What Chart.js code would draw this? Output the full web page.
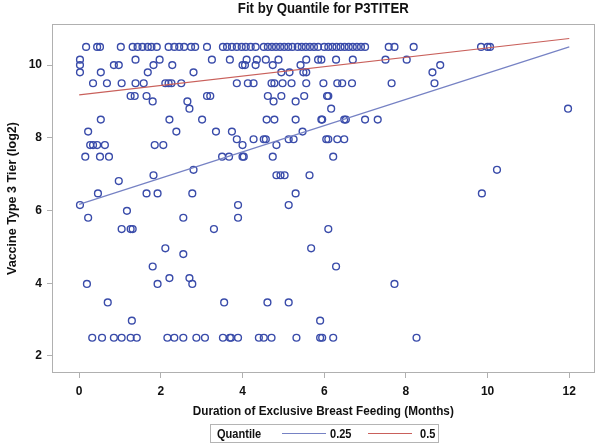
<!DOCTYPE html>
<html>
<head>
<meta charset="utf-8">
<script src="https://cdn.jsdelivr.net/npm/chart.js@4.4.1/dist/chart.umd.min.js"></script>
<style>
  body { margin: 0; background: #fff; }
  #wrap { position: relative; width: 600px; height: 444px; }
  #legend {
    position: absolute; left: 210px; top: 424px; width: 229px; height: 19px;
    border: 1px solid #b4b4b4; box-sizing: border-box;
    font: bold 13px "Liberation Sans", Arial, sans-serif;
    color: #111;
  }
  #legend span { position: absolute; top: 1px; transform: scaleX(0.85); transform-origin: left center; }
  #legend .ln { top: 8px; height: 1px; width: 44px; transform: none; }
</style>
</head>
<body>
<div id="wrap">
  <canvas id="chart" width="600" height="444"></canvas>
  <div id="legend">
    <span style="left:6px">Quantile</span>
    <span class="ln" style="left:71px;background:#7682c4"></span>
    <span style="left:119px">0.25</span>
    <span class="ln" style="left:157px;background:#c9605b"></span>
    <span style="left:209px">0.5</span>
  </div>
</div>
<script>
// titer levels (log2) and the months observed at each level
const titerLevels = [10.5, 10.15, 10.0, 9.8, 9.5, 9.15, 9.0, 8.8, 8.5, 8.17, 7.96, 7.8, 7.48,
  7.12, 6.97, 6.81, 6.47, 6.15, 5.99, 5.8, 5.49, 4.96, 4.8, 4.46, 4.14, 3.98, 3.47, 2.97, 2.5];
const monthsAtLevel = [
  [0.17, 0.44, 0.51, 1.02, 1.31, 1.43, 1.55, 1.68, 1.77, 1.9, 2.19, 2.33, 2.45, 2.57, 2.74, 2.84,
   3.13, 3.52, 3.62, 3.74, 3.86, 3.98, 4.08, 4.2, 4.32, 4.52, 4.62, 4.72, 4.82, 4.92, 5.02, 5.12,
   5.22, 5.35, 5.45, 5.55, 5.65, 5.75, 5.85, 6.0, 6.1, 6.2, 6.3, 6.4, 6.5, 6.6, 6.7, 6.8, 6.9, 7.0,
   7.58, 7.72, 8.19, 9.84, 10.0, 10.06],
  [0.02, 1.38, 1.97, 3.25, 3.69, 4.1, 4.35, 4.57, 4.88, 5.56, 5.85, 5.93, 6.29, 6.7, 7.5, 8.02],
  [0.02, 0.85, 0.97, 1.82, 2.28, 4.0, 4.06, 4.32, 4.74, 5.42, 8.84],
  [0.02, 0.53, 1.68, 2.8, 4.95, 5.15, 5.49, 5.56, 8.65],
  [0.34, 0.68, 1.04, 1.38, 1.58, 2.11, 2.19, 2.26, 2.5, 3.86, 4.13, 4.27, 4.71, 4.78, 4.98, 5.2,
   5.56, 5.98, 6.32, 6.44, 6.68, 7.65, 8.7],
  [1.26, 1.36, 1.65, 3.13, 3.21, 4.62, 4.95, 5.51, 6.07, 6.1],
  [1.8, 2.65, 4.76, 5.3],
  [2.7, 6.17, 11.97],
  [0.53, 2.21, 3.01, 4.59, 4.78, 5.3, 5.93, 5.95, 6.49, 6.53, 7.0, 7.31],
  [0.22, 2.38, 3.35, 3.74, 5.47],
  [3.86, 4.27, 4.52, 4.57, 5.13, 5.25, 6.05, 6.1, 6.32, 6.49],
  [0.27, 0.34, 0.44, 0.63, 1.85, 2.06, 4.0, 4.83],
  [0.15, 0.51, 0.73, 3.5, 3.67, 4.0, 4.03, 4.74, 6.22],
  [2.8, 10.23],
  [1.82, 4.83, 4.93, 5.03, 5.64],
  [0.97],
  [0.46, 1.65, 1.92, 2.77, 5.3, 9.86],
  [0.02, 3.89, 5.13],
  [1.17],
  [0.22, 2.55, 3.89],
  [1.04, 1.26, 1.31, 3.3, 6.1],
  [2.11, 5.68],
  [2.55],
  [1.8, 6.29],
  [2.21, 2.7],
  [0.19, 1.92, 2.77, 7.72],
  [0.7, 3.55, 4.61, 5.13],
  [1.29, 5.9],
  [0.32, 0.56, 0.85, 1.04, 1.26, 1.41, 2.16, 2.33, 2.55, 2.87, 3.08, 3.52, 3.69, 3.72, 3.89, 4.4,
   4.52, 4.71, 5.32, 5.9, 5.95, 6.22, 8.26]
];

// quantile regression fits, ends of the lines
const fitMonths = [0, 12];
const fitQ25 = [6.17, 10.5];
const fitQ50 = [9.18, 10.73];

const xTicks = [0, 2, 4, 6, 8, 10, 12];
const yTicks = [2, 4, 6, 8, 10];

const chartTitle = 'Fit by Quantile for P3TITER';
const xTitle = 'Duration of Exclusive Breast Feeding (Months)';
const yTitle = 'Vaccine Type 3 Tier (log2)';

const FONT = '"Liberation Sans", Arial, sans-serif';

let points = [];
titerLevels.forEach(function(t, i) {
  monthsAtLevel[i].forEach(function(m) { points.push({ x: m, y: t }); });
});

// schmale Schrift nachbilden: Text horizontal gestaucht zeichnen
function drawNarrow(ctx, text, x, y, font, sx, rot) {
  ctx.save();
  ctx.translate(x, y);
  if (rot) ctx.rotate(rot);
  ctx.scale(sx, 1);
  ctx.font = font;
  ctx.fillStyle = '#111';
  ctx.textAlign = 'center';
  ctx.textBaseline = 'middle';
  ctx.fillText(text, 0, 0);
  ctx.restore();
}

const framePlugin = {
  id: 'frame',
  beforeDatasetsDraw(chart) {
    const a = chart.chartArea, ctx = chart.ctx;
    ctx.save();
    ctx.strokeStyle = '#b0b0b0';
    ctx.lineWidth = 1;
    ctx.strokeRect(Math.round(a.left) + 0.5, Math.round(a.top) + 0.5,
      Math.round(a.right - a.left) - 1, Math.round(a.bottom - a.top) - 1);
    ctx.restore();
  },
  afterDraw(chart) {
    const a = chart.chartArea, ctx = chart.ctx;
    const cx = (a.left + a.right) / 2;
    drawNarrow(ctx, chartTitle, cx, 9, 'bold 15px ' + FONT, 0.88);
    drawNarrow(ctx, xTitle, cx, 411, 'bold 13.5px ' + FONT, 0.87);
    drawNarrow(ctx, yTitle, 12, (a.top + a.bottom) / 2, 'bold 13.5px ' + FONT, 0.93, -Math.PI / 2);
  }
};

new Chart(document.getElementById('chart').getContext('2d'), {
  type: 'scatter',
  data: {
    datasets: [
      {
        type: 'line', label: '0.25',
        data: fitMonths.map((m, i) => ({ x: m, y: fitQ25[i] })),
        borderColor: '#7682c4', borderWidth: 1.2, pointRadius: 0, fill: false
      },
      {
        type: 'line', label: '0.5',
        data: fitMonths.map((m, i) => ({ x: m, y: fitQ50[i] })),
        borderColor: '#c9605b', borderWidth: 1.1, pointRadius: 0, fill: false
      },
      {
        label: 'P3TITER',
        data: points,
        pointStyle: 'circle', pointRadius: 3.4, pointBorderWidth: 1.4,
        borderColor: '#3a4caa', backgroundColor: 'rgba(0,0,0,0)'
      }
    ]
  },
  options: {
    responsive: false,
    animation: false,
    layout: { padding: { top: 24, right: 3, bottom: 0, left: 0 } },
    plugins: {
      legend: { display: false },
      tooltip: { enabled: false },
      title: { display: false }
    },
    scales: {
      x: {
        type: 'linear', min: -0.665, max: 12.62,
        afterBuildTicks: s => { s.ticks = xTicks.map(v => ({ value: v })); },
        afterFit: s => { s.height = 71; },
        grid: { display: true, drawOnChartArea: false, drawTicks: true, tickLength: 5, color: '#b0b0b0' },
        border: { display: false },
        ticks: { color: '#111', padding: 6, font: { family: FONT, size: 12, weight: 'bold' } },
        title: { display: false }
      },
      y: {
        type: 'linear', min: 1.53, max: 11.13,
        afterBuildTicks: s => { s.ticks = yTicks.map(v => ({ value: v })); },
        afterFit: s => { s.width = 52; },
        grid: { display: true, drawOnChartArea: false, drawTicks: true, tickLength: 5, color: '#b0b0b0' },
        border: { display: false },
        ticks: { color: '#111', padding: 5, font: { family: FONT, size: 12, weight: 'bold' } },
        title: { display: false }
      }
    }
  },
  plugins: [framePlugin]
});
</script>
</body>
</html>
